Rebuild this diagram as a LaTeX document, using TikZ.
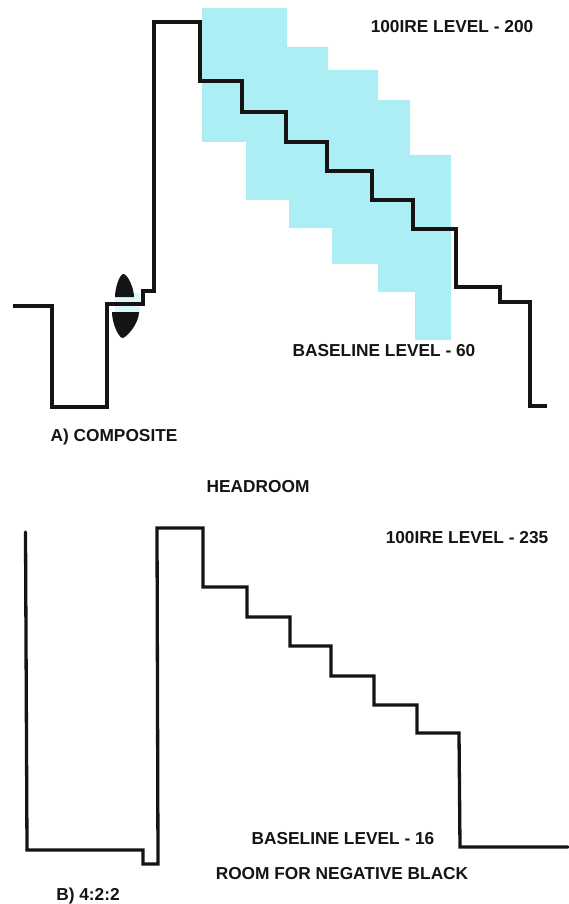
\documentclass[tikz,border=0pt]{standalone}
\usepackage{fontspec}
\setmainfont{Liberation Sans}
\definecolor{bandcyan}{RGB}{172,238,244}
\definecolor{smearcyan}{RGB}{218,247,250}
\definecolor{ink}{RGB}{20,20,20}
\begin{document}
\begin{tikzpicture}[x=1pt,y=-1pt,
  wave/.style={line width=3.3pt, line join=miter, line cap=butt, draw=ink},
  lbl/.style={font=\bfseries\fontsize{17.3}{19}\selectfont, inner sep=0pt, anchor=base, text=ink},
  arrowhead/.style={fill=ink}]
\useasboundingbox (0,0) rectangle (568,904);
% cyan band (composite)
\fill[bandcyan] (202,8) -- (287,8) -- (287,47) -- (328,47) -- (328,70) -- (378,70)
  -- (378,100) -- (410,100) -- (410,155) -- (451,155) -- (451,340) -- (415,340)
  -- (415,292) -- (378,292) -- (378,264) -- (332,264) -- (332,228) -- (289,228)
  -- (289,200) -- (246,200) -- (246,142) -- (202,142) -- cycle;
\fill[smearcyan] (115,293) rectangle (140,313);
% A) composite waveform
\draw[wave] (13,306) -- (52,306) -- (52,407) -- (107,407) -- (107,304) -- (143,304)
  -- (143,291) -- (154,291) -- (154,22) -- (200,22) -- (200,81) -- (242,81)
  -- (242,112) -- (286,112) -- (286,142) -- (327,142) -- (327,171) -- (372,171)
  -- (372,200) -- (413,200) -- (413,229) -- (456,229) -- (456,287) -- (500,287)
  -- (500,302) -- (530,302) -- (530,406) -- (547,406);
% arrows
\fill[arrowhead] (123.5,274) .. controls (127.5,274) and (134,288) .. (134,297)
  -- (115,297) .. controls (115,288) and (119.5,274) .. (123.5,274) -- cycle;
\fill[arrowhead] (112,312) -- (139,312) .. controls (139,324) and (126,338) .. (122.5,338)
  .. controls (119,338) and (112,324) .. (112,312) -- cycle;
% B) 4:2:2 waveform
\draw[wave, line cap=round] (25.5,532) -- (27,850) -- (143,850) -- (143,864) -- (158,864)
  -- (157,528) -- (203,528) -- (203,587) -- (247,587) -- (247,617) -- (290,617)
  -- (290,646) -- (331,646) -- (331,676) -- (374,676) -- (374,705) -- (417,705)
  -- (417,733) -- (459,733) -- (460,847) -- (568,847);
% labels
\node[lbl] (ire200) at (452,33) {100IRE LEVEL - 200};
\node[lbl] (base60) at (384,356) {BASELINE LEVEL - 60};
\node[lbl] (compA) at (114,441) {A) COMPOSITE};
\node[lbl] (head) at (258,492) {HEADROOM};
\node[lbl] (ire235) at (467,543) {100IRE LEVEL - 235};
\node[lbl] (base16) at (343,844) {BASELINE LEVEL - 16};
\node[lbl] (negblack) at (342,879) {ROOM FOR NEGATIVE BLACK};
\node[lbl] (b422) at (88,900) {B) 4:2:2};
\end{tikzpicture}
\end{document}
